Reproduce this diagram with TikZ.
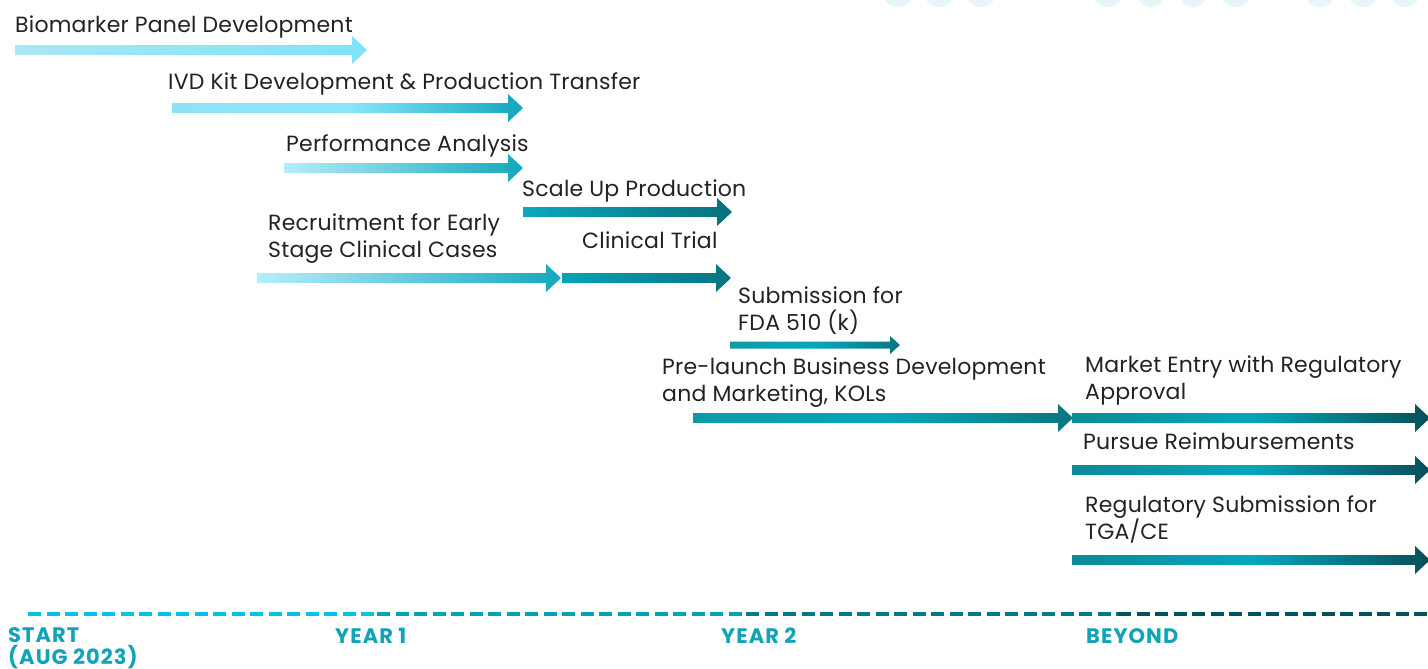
\documentclass[tikz,border=0pt]{standalone}
\usepackage{fontspec}
\setmainfont{Poppins}[LetterSpace=1]
\newfontfamily\yfont{Poppins}[LetterSpace=5]
\definecolor{txt}{HTML}{222222}
\definecolor{ylab}{HTML}{12A3B9}
\definecolor{circ}{HTML}{E6F6F8}
\definecolor{tA}{HTML}{00C2E2}
\definecolor{tB}{HTML}{00A2B5}
\definecolor{tC}{HTML}{007A84}
\definecolor{tD}{HTML}{00525B}
\definecolor{bA}{HTML}{A8E7F6}\definecolor{bB}{HTML}{7FE2FA}
\definecolor{iA}{HTML}{8FE2F5}\definecolor{iM}{HTML}{88E7FC}\definecolor{iB}{HTML}{10A6BC}
\definecolor{pA}{HTML}{B5EEFA}\definecolor{pB}{HTML}{13A8BD}
\definecolor{sA}{HTML}{0BA7BD}\definecolor{sB}{HTML}{07717C}
\definecolor{cA}{HTML}{05A3B8}\definecolor{cB}{HTML}{08737E}
\definecolor{dA}{HTML}{0C9AA8}\definecolor{dM}{HTML}{07A6BB}\definecolor{dB}{HTML}{0A7580}
\definecolor{mA}{HTML}{0B8A96}\definecolor{mM}{HTML}{06A7BC}\definecolor{mB}{HTML}{064F58}
\tikzset{
  lbl/.style={anchor=base west, inner sep=0pt, text=txt, font=\fontsize{22}{27}\selectfont, align=left},
  ylbl/.style={anchor=base west, inner sep=0pt, text=ylab, font=\yfont\bfseries\fontsize{21}{22}\selectfont, align=left},
  tline/.style={line width=4pt, dash pattern=on 13pt off 5.5pt},
  dotc/.style={fill=circ, draw=none},
  gbio/.style={left color=bA, right color=bB},
  givd/.style={left color=iA, right color=iB, middle color=iM},
  glight/.style={left color=pA, right color=pB},
  gteal/.style={left color=sA, right color=sB},
  gclin/.style={left color=cA, right color=cB},
  gmid/.style={left color=dA, right color=dB, middle color=dM},
  gmkt/.style={left color=mA, right color=mB, middle color=mM},
}
\def\sh{4.8}\def\hh{14}\def\hl{15}
\newcommand\garrow[4]{%
  \shade[#4] (#1,#3-\sh) -- (#2-\hl,#3-\sh) -- (#2-\hl,#3-\hh) -- (#2,#3) -- (#2-\hl,#3+\hh) -- (#2-\hl,#3+\sh) -- (#1,#3+\sh) -- cycle;}
\begin{document}
\begin{tikzpicture}[x=1pt,y=-1pt]
\useasboundingbox (0,0) rectangle (1428,669);
% faint circles at top
\foreach \cx in {898,939,981,1108,1151,1193,1236,1320,1363,1405}
  \fill[dotc] (\cx,-8) circle (15);
% arrows
\garrow{15}{367}{50}{gbio}
\garrow{172}{523}{108}{givd}
\garrow{284}{523}{168}{glight}
\garrow{523}{732}{212}{gteal}
\garrow{257}{561}{278}{glight}
\garrow{562}{731}{278}{gclin}
\begingroup\def\sh{3.5}\def\hh{9}\def\hl{10}
\garrow{730}{900}{345}{gmid}
\endgroup
\garrow{693}{1073}{418}{gmid}
\garrow{1072}{1430}{418}{gmkt}
\garrow{1072}{1430}{470}{gmkt}
\garrow{1072}{1430}{560}{gmkt}
% labels
\node[lbl] (bio) at (15,33) {Biomarker Panel Development};
\node[lbl] (ivd) at (168,90) {IVD Kit Development \& Production Transfer};
\node[lbl] (perf) at (286,151) {Performance Analysis};
\node[lbl] (scale) at (522,196) {Scale Up Production};
\node[lbl] (recr) at (268,257) {Recruitment for Early\\Stage Clinical Cases};
\node[lbl] (clin) at (582,248) {Clinical Trial};
\node[lbl] (fda) at (738,330) {Submission for\\FDA 510 (k)};
\node[lbl] (pre) at (662,401) {Pre-launch Business Development\\and Marketing, KOLs};
\node[lbl] (mkt) at (1085,399) {Market Entry with Regulatory\\Approval};
\node[lbl] (reimb) at (1083,449) {Pursue Reimbursements};
\node[lbl] (tga) at (1085,539) {Regulatory Submission for\\TGA/CE};
% timeline
\draw[tline, tA] (28,614) -- (377,614);
\draw[tline, tB] (377,614) -- (746,614);
\draw[tline, tC] (746,614) -- (1118,614);
\draw[tline, tD] (1118,614) -- (1430,614);
\node[ylbl] (start) at (8,664) {START\\(AUG 2023)};
\node[ylbl] (y1) at (335,643) {YEAR 1};
\node[ylbl] (y2) at (721,643) {YEAR 2};
\node[ylbl] (bey) at (1086,643) {BEYOND};
\end{tikzpicture}
\end{document}
